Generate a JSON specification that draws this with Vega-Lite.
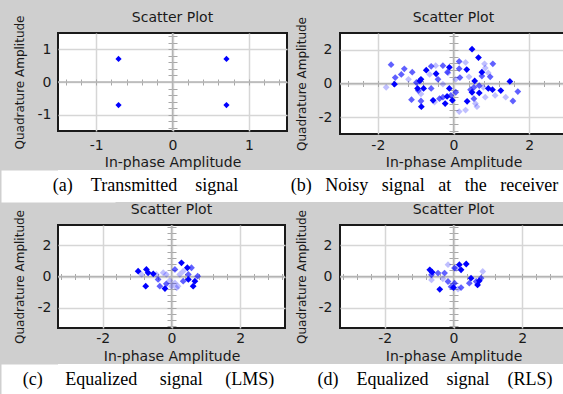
{
  "$schema": "https://vega.github.io/schema/vega-lite/v6.json",
  "background": "#cfcfcf",
  "padding": {"left": 12, "top": 10, "right": 0, "bottom": 0},
  "spacing": 0,
  "config": {
    "font": "DejaVu Sans",
    "view": {"stroke": "#1a1a1a", "strokeWidth": 2, "fill": "white"},
    "title": {"font": "DejaVu Sans", "fontSize": 14, "fontWeight": "normal", "color": "#1a1a1a", "frame": "group", "anchor": "middle"},
    "axis": {"labelFont": "DejaVu Sans", "labelFontSize": 14, "labelColor": "#1a1a1a", "titleFont": "DejaVu Sans", "titleFontSize": 14, "titleFontWeight": "normal", "titleColor": "#1a1a1a", "gridColor": "#d6d6d6", "gridWidth": 1.5, "domain": false, "ticks": false, "tickSize": 0},
    "axisY": {"titleFontSize": 12},
    "concat": {"spacing": 0}
  },
  "datasets": {
    "a": [
      {"i": -0.707, "q": 0.707, "age": 3},
      {"i": 0.707, "q": 0.707, "age": 3},
      {"i": -0.707, "q": -0.707, "age": 3},
      {"i": 0.707, "q": -0.707, "age": 3}
    ],
    "b": [
      {"i": 0.49, "q": 2.04, "age": 3}, {"i": 0.66, "q": 1.54, "age": 3}, {"i": 0.82, "q": 1.17, "age": 1},
      {"i": 1.04, "q": 1.17, "age": 2}, {"i": 0.15, "q": 1.31, "age": 2}, {"i": 0.32, "q": 1.25, "age": 1},
      {"i": -0.11, "q": 0.96, "age": 3}, {"i": -0.16, "q": 0.67, "age": 2}, {"i": 0.15, "q": 0.88, "age": 2},
      {"i": 0.35, "q": 0.83, "age": 3}, {"i": 0.17, "q": 0.35, "age": 2}, {"i": 0.41, "q": 0.40, "age": 1},
      {"i": 0.56, "q": 0.15, "age": 3}, {"i": 0.68, "q": -0.13, "age": 2}, {"i": 0.79, "q": -0.23, "age": 1},
      {"i": 0.92, "q": -0.29, "age": 3}, {"i": 1.03, "q": -0.37, "age": 3}, {"i": 1.25, "q": -0.42, "age": 3},
      {"i": 1.49, "q": 0.12, "age": 3}, {"i": 1.70, "q": -0.48, "age": 2}, {"i": 1.57, "q": -1.04, "age": 2},
      {"i": 1.38, "q": -0.81, "age": 1}, {"i": 0.84, "q": -0.81, "age": 1}, {"i": 0.68, "q": -0.56, "age": 3},
      {"i": 0.49, "q": -0.52, "age": 3}, {"i": 0.54, "q": -0.90, "age": 2}, {"i": 0.36, "q": -1.06, "age": 3},
      {"i": 0.58, "q": -1.19, "age": 1}, {"i": 0.06, "q": -0.52, "age": 2}, {"i": -0.11, "q": -0.29, "age": 3},
      {"i": -0.07, "q": -0.71, "age": 2}, {"i": -0.17, "q": -0.77, "age": 3}, {"i": -0.28, "q": -0.81, "age": 2},
      {"i": -0.37, "q": -0.90, "age": 2}, {"i": -0.22, "q": -1.19, "age": 3}, {"i": -0.03, "q": -1.00, "age": 3},
      {"i": -0.54, "q": -1.00, "age": 3}, {"i": -0.50, "q": -1.10, "age": 1}, {"i": -0.59, "q": -0.29, "age": 2},
      {"i": -0.79, "q": -0.29, "age": 3}, {"i": -0.95, "q": -0.29, "age": 3}, {"i": -0.89, "q": 0.15, "age": 3},
      {"i": -0.86, "q": 0.25, "age": 3}, {"i": -0.93, "q": -0.42, "age": 2}, {"i": -0.86, "q": -0.62, "age": 1},
      {"i": -0.86, "q": -1.04, "age": 2}, {"i": -0.85, "q": -1.38, "age": 3}, {"i": -1.11, "q": -0.96, "age": 2},
      {"i": -0.72, "q": 0.79, "age": 3}, {"i": -0.59, "q": 1.02, "age": 2}, {"i": -0.63, "q": 0.54, "age": 1},
      {"i": -0.46, "q": 0.58, "age": 3}, {"i": -0.41, "q": 0.25, "age": 2}, {"i": -0.28, "q": -0.04, "age": 1},
      {"i": -0.47, "q": 1.06, "age": 1}, {"i": -0.28, "q": 1.06, "age": 2}, {"i": -0.14, "q": 0.63, "age": 1},
      {"i": -1.09, "q": 0.67, "age": 2}, {"i": -1.30, "q": 0.87, "age": 2}, {"i": -1.38, "q": 0.54, "age": 2},
      {"i": -1.54, "q": 0.35, "age": 2}, {"i": -1.65, "q": 1.12, "age": 2}, {"i": -1.56, "q": -0.04, "age": 3},
      {"i": -1.78, "q": -0.23, "age": 1}, {"i": -1.19, "q": 0.25, "age": 1}, {"i": -0.98, "q": 0.06, "age": 2},
      {"i": 0.06, "q": 0.25, "age": 1}, {"i": 0.15, "q": -1.67, "age": 1}, {"i": 0.32, "q": -1.58, "age": 1},
      {"i": 0.92, "q": 0.63, "age": 1}, {"i": 0.97, "q": 0.40, "age": 2}, {"i": 0.75, "q": 0.67, "age": 3},
      {"i": 0.75, "q": 0.44, "age": 2}, {"i": 0.84, "q": 0.92, "age": 1}, {"i": 0.54, "q": -0.23, "age": 2},
      {"i": 0.45, "q": -0.37, "age": 2}, {"i": 1.10, "q": -0.71, "age": 1}, {"i": 0.62, "q": -1.38, "age": 1}
    ],
    "c": [
      {"i": -0.97, "q": 0.34, "age": 3}, {"i": -0.73, "q": 0.45, "age": 3}, {"i": -0.68, "q": 0.24, "age": 3},
      {"i": -0.53, "q": 0.17, "age": 3}, {"i": -0.75, "q": -0.62, "age": 3}, {"i": -0.87, "q": 0.13, "age": 1},
      {"i": -0.39, "q": -0.19, "age": 2}, {"i": -0.34, "q": -0.62, "age": 2}, {"i": -0.19, "q": -0.77, "age": 3},
      {"i": -0.15, "q": -0.47, "age": 2}, {"i": -0.24, "q": 0.24, "age": 1}, {"i": -0.15, "q": 0.13, "age": 1},
      {"i": -0.05, "q": -0.26, "age": 1}, {"i": 0.10, "q": 0.45, "age": 2}, {"i": 0.29, "q": 0.88, "age": 3},
      {"i": 0.46, "q": 0.56, "age": 3}, {"i": 0.58, "q": 0.56, "age": 2}, {"i": 0.49, "q": 0.13, "age": 2},
      {"i": 0.49, "q": -0.19, "age": 3}, {"i": 0.34, "q": -0.30, "age": 2}, {"i": 0.68, "q": -0.30, "age": 3},
      {"i": 0.76, "q": 0.02, "age": 2}, {"i": 0.63, "q": -0.62, "age": 3}, {"i": 0.19, "q": -0.62, "age": 1},
      {"i": 0.10, "q": -0.41, "age": 1}, {"i": 0.0, "q": -0.62, "age": 1}, {"i": 0.15, "q": -0.73, "age": 1},
      {"i": -0.44, "q": 0.13, "age": 1}, {"i": 0.24, "q": 0.13, "age": 1}, {"i": 0.34, "q": 0.34, "age": 1}
    ],
    "d": [
      {"i": -0.69, "q": 0.43, "age": 3}, {"i": -0.62, "q": 0.28, "age": 3}, {"i": -0.64, "q": 0.11, "age": 2},
      {"i": -0.45, "q": 0.22, "age": 2}, {"i": -0.26, "q": 0.22, "age": 2}, {"i": -0.40, "q": -0.82, "age": 3},
      {"i": -0.31, "q": -0.15, "age": 1}, {"i": -0.16, "q": -0.32, "age": 2}, {"i": -0.07, "q": -0.65, "age": 2},
      {"i": 0.0, "q": -0.71, "age": 3}, {"i": 0.13, "q": -0.80, "age": 1}, {"i": 0.03, "q": -0.43, "age": 2},
      {"i": -0.16, "q": 0.76, "age": 1}, {"i": 0.03, "q": 0.54, "age": 2}, {"i": 0.17, "q": 0.76, "age": 3},
      {"i": 0.22, "q": 0.43, "age": 3}, {"i": 0.37, "q": 0.80, "age": 3}, {"i": 0.51, "q": -0.11, "age": 3},
      {"i": 0.46, "q": -0.43, "age": 2}, {"i": 0.66, "q": -0.32, "age": 2}, {"i": 0.75, "q": -0.28, "age": 3},
      {"i": 0.70, "q": -0.54, "age": 3}, {"i": 0.85, "q": 0.32, "age": 1}, {"i": 0.80, "q": -0.11, "age": 2},
      {"i": -0.64, "q": -0.22, "age": 1}, {"i": 0.22, "q": -0.71, "age": 2}, {"i": 0.08, "q": 0.50, "age": 1}
    ],
    "cap1": [
      {"col": 1, "cap": "(a)\u00a0\u00a0\u00a0\u00a0Transmitted\u00a0\u00a0\u00a0\u00a0signal"},
      {"col": 2, "cap": "(b)\u00a0\u00a0\u00a0Noisy\u00a0\u00a0\u00a0signal\u00a0\u00a0\u00a0at\u00a0\u00a0\u00a0the\u00a0\u00a0\u00a0receiver"}
    ],
    "cap2": [
      {"col": 1, "cap": "(c)\u00a0\u00a0\u00a0\u00a0\u00a0Equalized\u00a0\u00a0\u00a0\u00a0\u00a0signal\u00a0\u00a0\u00a0\u00a0\u00a0(LMS)"},
      {"col": 2, "cap": "(d)\u00a0\u00a0\u00a0\u00a0Equalized\u00a0\u00a0\u00a0\u00a0signal\u00a0\u00a0\u00a0\u00a0(RLS)"}
    ]
  },
  "vconcat": [
    {
      "hconcat": [
        {
          "width": 229, "height": 98,
          "title": {"text": "Scatter Plot", "offset": -10},
          "layer": [
            {
              "data": {"values": [{}]},
              "mark": {"type": "rule", "color": "#b4b4b4", "strokeWidth": 1.5},
              "encoding": {
                "x": {"datum": 0, "type": "quantitative", "scale": {"domain": [-1.5, 1.5], "nice": false, "zero": false},
                  "axis": {"orient": "bottom", "offset": -49, "values": [-1.4, -1.2, -1, -0.8, -0.6, -0.4, -0.2, 0.2, 0.4, 0.6, 0.8, 1, 1.2, 1.4], "labels": false, "title": null, "grid": false, "domain": false, "ticks": true, "tickSize": 3, "tickColor": "#a8a8a8", "tickWidth": 1}},
                "y": {"datum": -1.5, "type": "quantitative", "scale": {"domain": [-1.5, 1.5], "nice": false, "zero": false},
                  "axis": {"orient": "left", "offset": -114.5, "values": [-1.4, -1.2, -1, -0.8, -0.6, -0.4, -0.2, 0.2, 0.4, 0.6, 0.8, 1, 1.2, 1.4], "labels": false, "title": null, "grid": false, "domain": false, "ticks": true, "tickSize": 4.5, "tickColor": "#a8a8a8", "tickWidth": 1}},
                "y2": {"datum": 1.5}
              }
            },
            {
              "data": {"values": [{}]},
              "mark": {"type": "rule", "color": "#b4b4b4", "strokeWidth": 1.5},
              "encoding": {
                "y": {"datum": 0, "type": "quantitative", "scale": {"domain": [-1.5, 1.5], "nice": false, "zero": false},
                  "axis": {"orient": "right", "offset": -114.5, "values": [-1.4, -1.2, -1, -0.8, -0.6, -0.4, -0.2, 0.2, 0.4, 0.6, 0.8, 1, 1.2, 1.4], "labels": false, "title": null, "grid": false, "domain": false, "ticks": true, "tickSize": 4.5, "tickColor": "#a8a8a8", "tickWidth": 1}},
                "x": {"datum": -1.5, "type": "quantitative", "scale": {"domain": [-1.5, 1.5], "nice": false, "zero": false},
                  "axis": {"orient": "top", "offset": -49, "values": [-1.4, -1.2, -1, -0.8, -0.6, -0.4, -0.2, 0.2, 0.4, 0.6, 0.8, 1, 1.2, 1.4], "labels": false, "title": null, "grid": false, "domain": false, "ticks": true, "tickSize": 3, "tickColor": "#a8a8a8", "tickWidth": 1}},
                "x2": {"datum": 1.5}
              }
            },
            {
              "data": {"name": "a"},
              "mark": {"type": "point", "shape": "diamond", "filled": true, "color": "#0000ff", "size": 38},
              "encoding": {
                "x": {"field": "i", "type": "quantitative", "scale": {"domain": [-1.5, 1.5], "nice": false, "zero": false},
                  "axis": {"orient": "bottom", "values": [-1, 0, 1], "grid": true, "title": "In-phase Amplitude", "labelPadding": 7, "titlePadding": 3, "labelExpr": "datum.value + ''"}},
                "y": {"field": "q", "type": "quantitative", "scale": {"domain": [-1.5, 1.5], "nice": false, "zero": false},
                  "axis": {"orient": "left", "values": [-1, 0, 1], "grid": true, "title": "Quadrature Amplitude", "labelPadding": 7, "titlePadding": 11, "labelExpr": "datum.value + ''"}},
                "opacity": {"field": "age", "type": "quantitative", "scale": {"domain": [1, 3], "range": [0.25, 1]}, "legend": null}
              }
            }
          ],
          "resolve": {"axis": {"x": "independent", "y": "independent"}}
        },
        {
          "width": 227, "height": 101,
          "title": {"text": "Scatter Plot", "offset": -8.5},
          "layer": [
            {
              "data": {"values": [{}]},
              "mark": {"type": "rule", "color": "#b4b4b4", "strokeWidth": 1.5},
              "encoding": {
                "x": {"datum": 0, "type": "quantitative", "scale": {"domain": [-3, 3], "nice": false, "zero": false},
                  "axis": {"orient": "bottom", "offset": -50.5, "values": [-2.8, -2.4, -2, -1.6, -1.2, -0.8, -0.4, 0.4, 0.8, 1.2, 1.6, 2, 2.4, 2.8], "labels": false, "title": null, "grid": false, "domain": false, "ticks": true, "tickSize": 3, "tickColor": "#a8a8a8", "tickWidth": 1}},
                "y": {"datum": -3, "type": "quantitative", "scale": {"domain": [-3, 3], "nice": false, "zero": false},
                  "axis": {"orient": "left", "offset": -113.5, "values": [-2.8, -2.4, -2, -1.6, -1.2, -0.8, -0.4, 0.4, 0.8, 1.2, 1.6, 2, 2.4, 2.8], "labels": false, "title": null, "grid": false, "domain": false, "ticks": true, "tickSize": 4.5, "tickColor": "#a8a8a8", "tickWidth": 1}},
                "y2": {"datum": 3}
              }
            },
            {
              "data": {"values": [{}]},
              "mark": {"type": "rule", "color": "#b4b4b4", "strokeWidth": 1.5},
              "encoding": {
                "y": {"datum": 0, "type": "quantitative", "scale": {"domain": [-3, 3], "nice": false, "zero": false},
                  "axis": {"orient": "right", "offset": -113.5, "values": [-2.8, -2.4, -2, -1.6, -1.2, -0.8, -0.4, 0.4, 0.8, 1.2, 1.6, 2, 2.4, 2.8], "labels": false, "title": null, "grid": false, "domain": false, "ticks": true, "tickSize": 4.5, "tickColor": "#a8a8a8", "tickWidth": 1}},
                "x": {"datum": -3, "type": "quantitative", "scale": {"domain": [-3, 3], "nice": false, "zero": false},
                  "axis": {"orient": "top", "offset": -50.5, "values": [-2.8, -2.4, -2, -1.6, -1.2, -0.8, -0.4, 0.4, 0.8, 1.2, 1.6, 2, 2.4, 2.8], "labels": false, "title": null, "grid": false, "domain": false, "ticks": true, "tickSize": 3, "tickColor": "#a8a8a8", "tickWidth": 1}},
                "x2": {"datum": 3}
              }
            },
            {
              "data": {"name": "b"},
              "mark": {"type": "point", "shape": "diamond", "filled": true, "color": "#0000ff", "size": 46},
              "encoding": {
                "x": {"field": "i", "type": "quantitative", "scale": {"domain": [-3, 3], "nice": false, "zero": false},
                  "axis": {"orient": "bottom", "values": [-2, 0, 2], "grid": true, "title": "In-phase Amplitude", "labelPadding": 4, "titlePadding": 3, "labelExpr": "datum.value + ''"}},
                "y": {"field": "q", "type": "quantitative", "scale": {"domain": [-3, 3], "nice": false, "zero": false},
                  "axis": {"orient": "left", "values": [-2, 0, 2], "grid": true, "title": "Quadrature Amplitude", "labelPadding": 8, "titlePadding": 10, "labelExpr": "datum.value + ''"}},
                "opacity": {"field": "age", "type": "quantitative", "scale": {"domain": [1, 3], "range": [0.25, 1]}, "legend": null}
              }
            }
          ],
          "resolve": {"axis": {"x": "independent", "y": "independent"}}
        }
      ],
      "spacing": 5
    },
    {
      "width": 507, "height": 32,
      "view": {"fill": "white", "stroke": null},
      "data": {"name": "cap1"},
      "mark": {"type": "text", "font": "Liberation Serif", "fontSize": 18, "color": "#000000"},
      "encoding": {
        "x": {"field": "col", "type": "quantitative", "scale": {"domain": [0.6864, 2.5036], "nice": false, "zero": false}, "axis": null},
        "y": {"datum": 0.5, "type": "quantitative", "scale": {"domain": [0, 1], "nice": false, "zero": false},
          "axis": {"orient": "left", "domain": true, "domainColor": "white", "domainWidth": 114, "domainCap": "butt", "labels": false, "ticks": false, "grid": false, "title": null, "minExtent": 0, "maxExtent": 0}},
        "text": {"field": "cap"}
      }
    },
    {
      "hconcat": [
        {
          "width": 227, "height": 103,
          "title": {"text": "Scatter Plot", "offset": -7.5},
          "layer": [
            {
              "data": {"values": [{}]},
              "mark": {"type": "rule", "color": "#b4b4b4", "strokeWidth": 1.5},
              "encoding": {
                "x": {"datum": 0, "type": "quantitative", "scale": {"domain": [-3.3, 3.3], "nice": false, "zero": false},
                  "axis": {"orient": "bottom", "offset": -51.5, "values": [-3.2, -2.8, -2.4, -2, -1.6, -1.2, -0.8, -0.4, 0.4, 0.8, 1.2, 1.6, 2, 2.4, 2.8, 3.2], "labels": false, "title": null, "grid": false, "domain": false, "ticks": true, "tickSize": 3, "tickColor": "#a8a8a8", "tickWidth": 1}},
                "y": {"datum": -3.3, "type": "quantitative", "scale": {"domain": [-3.3, 3.3], "nice": false, "zero": false},
                  "axis": {"orient": "left", "offset": -113.5, "values": [-3.2, -2.8, -2.4, -2, -1.6, -1.2, -0.8, -0.4, 0.4, 0.8, 1.2, 1.6, 2, 2.4, 2.8, 3.2], "labels": false, "title": null, "grid": false, "domain": false, "ticks": true, "tickSize": 4.5, "tickColor": "#a8a8a8", "tickWidth": 1}},
                "y2": {"datum": 3.3}
              }
            },
            {
              "data": {"values": [{}]},
              "mark": {"type": "rule", "color": "#b4b4b4", "strokeWidth": 1.5},
              "encoding": {
                "y": {"datum": 0, "type": "quantitative", "scale": {"domain": [-3.3, 3.3], "nice": false, "zero": false},
                  "axis": {"orient": "right", "offset": -113.5, "values": [-3.2, -2.8, -2.4, -2, -1.6, -1.2, -0.8, -0.4, 0.4, 0.8, 1.2, 1.6, 2, 2.4, 2.8, 3.2], "labels": false, "title": null, "grid": false, "domain": false, "ticks": true, "tickSize": 4.5, "tickColor": "#a8a8a8", "tickWidth": 1}},
                "x": {"datum": -3.3, "type": "quantitative", "scale": {"domain": [-3.3, 3.3], "nice": false, "zero": false},
                  "axis": {"orient": "top", "offset": -51.5, "values": [-3.2, -2.8, -2.4, -2, -1.6, -1.2, -0.8, -0.4, 0.4, 0.8, 1.2, 1.6, 2, 2.4, 2.8, 3.2], "labels": false, "title": null, "grid": false, "domain": false, "ticks": true, "tickSize": 3, "tickColor": "#a8a8a8", "tickWidth": 1}},
                "x2": {"datum": 3.3}
              }
            },
            {
              "data": {"name": "c"},
              "mark": {"type": "point", "shape": "diamond", "filled": true, "color": "#0000ff", "size": 46},
              "encoding": {
                "x": {"field": "i", "type": "quantitative", "scale": {"domain": [-3.3, 3.3], "nice": false, "zero": false},
                  "axis": {"orient": "bottom", "values": [-2, 0, 2], "grid": true, "title": "In-phase Amplitude", "labelPadding": 3, "titlePadding": 4, "labelExpr": "datum.value + ''"}},
                "y": {"field": "q", "type": "quantitative", "scale": {"domain": [-3.3, 3.3], "nice": false, "zero": false},
                  "axis": {"orient": "left", "values": [-2, 0, 2], "grid": true, "title": "Quadrature Amplitude", "labelPadding": 7, "titlePadding": 11, "labelExpr": "datum.value + ''"}},
                "opacity": {"field": "age", "type": "quantitative", "scale": {"domain": [1, 3], "range": [0.25, 1]}, "legend": null}
              }
            }
          ],
          "resolve": {"axis": {"x": "independent", "y": "independent"}}
        },
        {
          "width": 227, "height": 103,
          "title": {"text": "Scatter Plot", "offset": -7.5},
          "layer": [
            {
              "data": {"values": [{}]},
              "mark": {"type": "rule", "color": "#b4b4b4", "strokeWidth": 1.5},
              "encoding": {
                "x": {"datum": 0, "type": "quantitative", "scale": {"domain": [-3.3, 3.3], "nice": false, "zero": false},
                  "axis": {"orient": "bottom", "offset": -51.5, "values": [-3.2, -2.8, -2.4, -2, -1.6, -1.2, -0.8, -0.4, 0.4, 0.8, 1.2, 1.6, 2, 2.4, 2.8, 3.2], "labels": false, "title": null, "grid": false, "domain": false, "ticks": true, "tickSize": 3, "tickColor": "#a8a8a8", "tickWidth": 1}},
                "y": {"datum": -3.3, "type": "quantitative", "scale": {"domain": [-3.3, 3.3], "nice": false, "zero": false},
                  "axis": {"orient": "left", "offset": -113.5, "values": [-3.2, -2.8, -2.4, -2, -1.6, -1.2, -0.8, -0.4, 0.4, 0.8, 1.2, 1.6, 2, 2.4, 2.8, 3.2], "labels": false, "title": null, "grid": false, "domain": false, "ticks": true, "tickSize": 4.5, "tickColor": "#a8a8a8", "tickWidth": 1}},
                "y2": {"datum": 3.3}
              }
            },
            {
              "data": {"values": [{}]},
              "mark": {"type": "rule", "color": "#b4b4b4", "strokeWidth": 1.5},
              "encoding": {
                "y": {"datum": 0, "type": "quantitative", "scale": {"domain": [-3.3, 3.3], "nice": false, "zero": false},
                  "axis": {"orient": "right", "offset": -113.5, "values": [-3.2, -2.8, -2.4, -2, -1.6, -1.2, -0.8, -0.4, 0.4, 0.8, 1.2, 1.6, 2, 2.4, 2.8, 3.2], "labels": false, "title": null, "grid": false, "domain": false, "ticks": true, "tickSize": 4.5, "tickColor": "#a8a8a8", "tickWidth": 1}},
                "x": {"datum": -3.3, "type": "quantitative", "scale": {"domain": [-3.3, 3.3], "nice": false, "zero": false},
                  "axis": {"orient": "top", "offset": -51.5, "values": [-3.2, -2.8, -2.4, -2, -1.6, -1.2, -0.8, -0.4, 0.4, 0.8, 1.2, 1.6, 2, 2.4, 2.8, 3.2], "labels": false, "title": null, "grid": false, "domain": false, "ticks": true, "tickSize": 3, "tickColor": "#a8a8a8", "tickWidth": 1}},
                "x2": {"datum": 3.3}
              }
            },
            {
              "data": {"name": "d"},
              "mark": {"type": "point", "shape": "diamond", "filled": true, "color": "#0000ff", "size": 46},
              "encoding": {
                "x": {"field": "i", "type": "quantitative", "scale": {"domain": [-3.3, 3.3], "nice": false, "zero": false},
                  "axis": {"orient": "bottom", "values": [-2, 0, 2], "grid": true, "title": "In-phase Amplitude", "labelPadding": 3, "titlePadding": 4, "labelExpr": "datum.value + ''"}},
                "y": {"field": "q", "type": "quantitative", "scale": {"domain": [-3.3, 3.3], "nice": false, "zero": false},
                  "axis": {"orient": "left", "values": [-2, 0, 2], "grid": true, "title": "Quadrature Amplitude", "labelPadding": 8, "titlePadding": 10, "labelExpr": "datum.value + ''"}},
                "opacity": {"field": "age", "type": "quantitative", "scale": {"domain": [1, 3], "range": [0.25, 1]}, "legend": null}
              }
            }
          ],
          "resolve": {"axis": {"x": "independent", "y": "independent"}}
        }
      ],
      "spacing": 7
    },
    {
      "width": 507, "height": 32,
      "view": {"fill": "white", "stroke": null},
      "data": {"name": "cap2"},
      "mark": {"type": "text", "font": "Liberation Serif", "fontSize": 18, "color": "#000000"},
      "encoding": {
        "x": {"field": "col", "type": "quantitative", "scale": {"domain": [0.684, 2.454], "nice": false, "zero": false}, "axis": null},
        "y": {"datum": 0.5, "type": "quantitative", "scale": {"domain": [0, 1], "nice": false, "zero": false},
          "axis": {"orient": "left", "domain": true, "domainColor": "white", "domainWidth": 114, "domainCap": "butt", "labels": false, "ticks": false, "grid": false, "title": null, "minExtent": 0, "maxExtent": 0}},
        "text": {"field": "cap"}
      }
    }
  ]
}
